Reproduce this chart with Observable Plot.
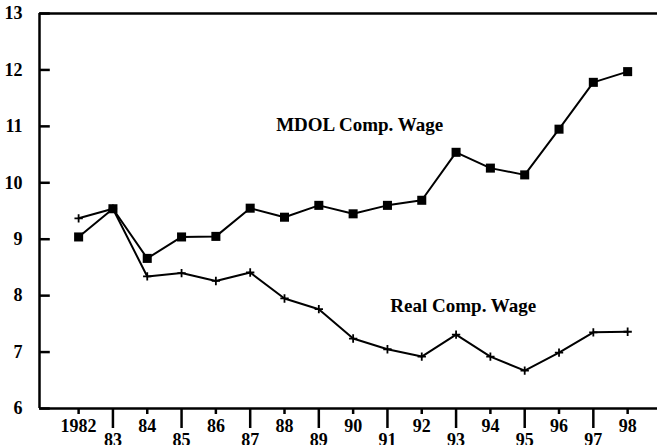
<!DOCTYPE html>
<html>
<head>
<meta charset="utf-8">
<script src="https://cdn.jsdelivr.net/npm/d3@7"></script>
<script src="https://cdn.jsdelivr.net/npm/@observablehq/plot@0.6"></script>
<style>
  html, body { margin: 0; padding: 0; background: #fff; }
  #chart svg { display: block; }
</style>
</head>
<body>
<div id="chart"></div>
<script>
const years = [1982,1983,1984,1985,1986,1987,1988,1989,1990,1991,1992,1993,1994,1995,1996,1997,1998];
const mdolWage = [9.04,9.54,8.66,9.04,9.05,9.55,9.39,9.60,9.45,9.60,9.69,10.54,10.26,10.14,10.95,11.78,11.97];
const realWage = [9.37,9.54,8.34,8.40,8.26,8.41,7.95,7.76,7.24,7.05,6.92,7.31,6.92,6.67,6.99,7.35,7.36];
const yTicks = [6,7,8,9,10,11,12,13];
const xTickLabels = ["1982","83","84","85","86","87","88","89","90","91","92","93","94","95","96","97","98"];
const seriesLabels = [
  {text: "MDOL Comp. Wage", year: 1990.19, value: 11.02},
  {text: "Real Comp. Wage", year: 1993.21, value: 7.82}
];

const xDomain = [1980.86, 1998.87];
const evenYears = years.filter((d, i) => i % 2 === 0);
const oddYears = years.filter((d, i) => i % 2 === 1);
const labelOf = y => xTickLabels[years.indexOf(y)];

const rows = years.map((y, i) => ({year: y, mdol: mdolWage[i], real: realWage[i]}));
const yTickRows = yTicks.map(v => ({v, x1: xDomain[0], x2: xDomain[0] + 0.3}));

const font = "'Liberation Serif', 'Times New Roman', serif";

const chart = Plot.plot({
  width: 657,
  height: 445,
  marginLeft: 39,
  marginRight: 0,
  marginTop: 13,
  marginBottom: 37,
  style: {fontFamily: font, fontWeight: "bold", fontSize: "18px", color: "#000", background: "#fff"},
  x: {domain: xDomain, label: null},
  y: {domain: [6, 13], label: null},
  marks: [
    // frame lines: top, bottom, left
    Plot.ruleY([13], {stroke: "#000", strokeWidth: 2.5}),
    Plot.ruleY([6], {stroke: "#000", strokeWidth: 2.5}),
    Plot.ruleX([xDomain[0]], {y1: 6, y2: 13, stroke: "#000", strokeWidth: 2.5}),
    // y axis: inward ticks + labels
    Plot.link(yTickRows, {x1: "x1", x2: "x2", y1: "v", y2: "v", stroke: "#000", strokeWidth: 2.5}),
    Plot.axisY(yTicks, {tickSize: 0, tickPadding: 17, tickFormat: d => String(d), fontSize: 18, fontWeight: "bold", label: null}),
    // x axis: short ticks for even years, long for odd years
    Plot.axisX(evenYears, {tickSize: 6, tickPadding: 5, tickFormat: labelOf, strokeWidth: 2.5, fontSize: 18, fontWeight: "bold", label: null}),
    Plot.axisX(oddYears, {tickSize: 20, tickPadding: 5, tickFormat: labelOf, strokeWidth: 2.5, fontSize: 18, fontWeight: "bold", label: null}),
    // series
    Plot.line(rows, {x: "year", y: "mdol", stroke: "#000", strokeWidth: 2}),
    Plot.line(rows, {x: "year", y: "real", stroke: "#000", strokeWidth: 2}),
    Plot.dot(rows, {x: "year", y: "mdol", symbol: "square", r: 5.1, fill: "#000", stroke: "none"}),
    Plot.dot(rows, {x: "year", y: "real", symbol: "plus", r: 2.8, stroke: "#000", strokeWidth: 1.8}),
    Plot.text(seriesLabels, {x: "year", y: "value", text: "text", fontSize: 19, fontWeight: "bold", fill: "#000"})
  ]
});

document.getElementById("chart").appendChild(chart);
</script>
</body>
</html>
